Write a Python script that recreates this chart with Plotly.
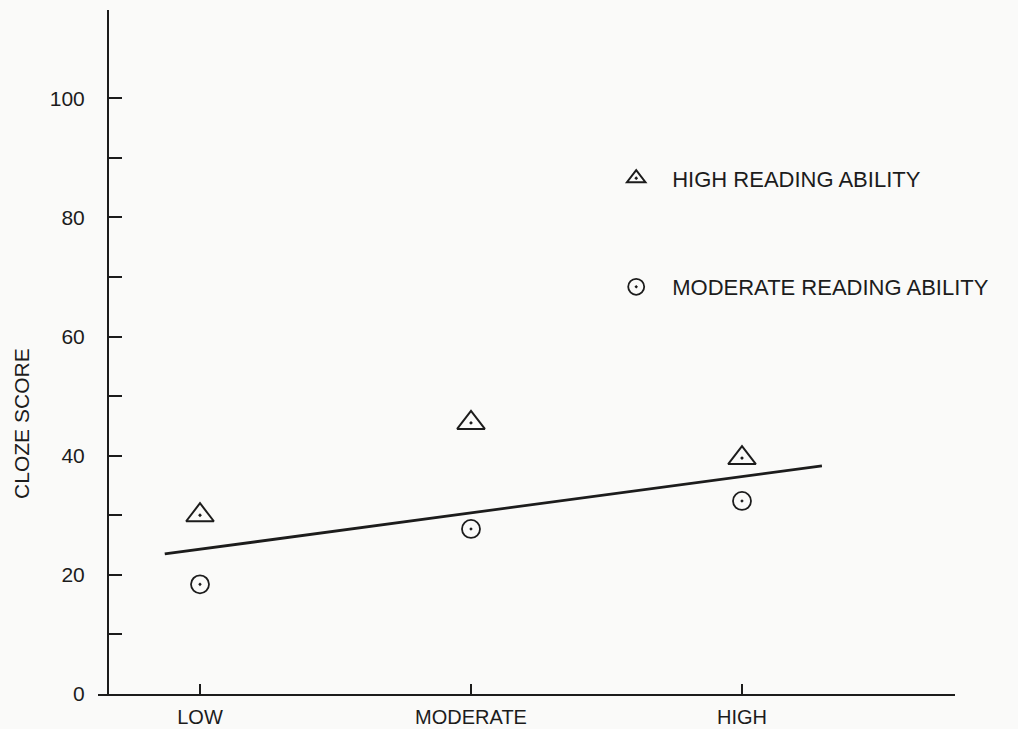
import plotly.graph_objects as go

# ---- data ----
categories = ["LOW", "MODERATE", "HIGH"]
cat_pos = [0, 1, 2]
high_ability = [30.0, 45.5, 39.6]
moderate_ability = [18.4, 27.7, 32.4]
fit_x = [-0.13, 2.295]
fit_y = [23.5, 38.3]
y_tickvals = [0, 10, 20, 30, 40, 50, 60, 70, 80, 90, 100]
y_ticktext = ["0", "", "20", "", "40", "", "60", "", "80", "", "100"]
series_names = ["HIGH READING ABILITY", "MODERATE READING ABILITY"]
y_title = "CLOZE SCORE"

FONT = "Liberation Sans, Arial, sans-serif"
INK = "#1c1c1c"

fig = go.Figure()
fig.add_trace(go.Scatter(
    x=fit_x, y=fit_y, mode="lines",
    line=dict(color=INK, width=2.8), showlegend=False, hoverinfo="skip"))
fig.add_trace(go.Scatter(
    x=cat_pos, y=high_ability, mode="markers", name=series_names[0],
    legendgroup="a",
    marker=dict(symbol="triangle-up-open-dot", size=24, color=INK,
                line=dict(width=2, color=INK))))
fig.add_trace(go.Scatter(
    x=cat_pos, y=moderate_ability, mode="markers", name=series_names[1],
    legendgroup="b",
    marker=dict(symbol="circle-open-dot", size=18, color=INK,
                line=dict(width=1.8, color=INK))))

fig.update_layout(
    width=1018, height=729,
    margin=dict(l=98, r=63, t=10, b=35),
    paper_bgcolor="#fafaf9", plot_bgcolor="#fafaf9",
    font=dict(family=FONT, size=21, color=INK),
    xaxis=dict(
        range=[-0.3764, 2.786], tickvals=cat_pos, ticktext=categories,
        showgrid=False, zeroline=False, showline=True, linecolor=INK,
        linewidth=2, ticks="inside", ticklen=10, tickwidth=2, tickcolor=INK,
        ticklabelstandoff=4, tickfont=dict(size=20), automargin=False),
    yaxis=dict(
        range=[0, 114.8], tickvals=y_tickvals, ticktext=y_ticktext,
        showgrid=False, zeroline=False, showline=True, linecolor=INK,
        linewidth=2, ticks="inside", ticklen=13, tickwidth=2, tickcolor=INK,
        anchor="free", position=10 / 857, ticklabelstandoff=18,
        tickfont=dict(size=21), automargin=False),
    legend=dict(
        x=0.586, y=0.7845, xanchor="left", yanchor="top",
        bgcolor="rgba(0,0,0,0)", itemwidth=62, tracegroupgap=77,
        font=dict(size=22, color=INK)),
    annotations=[dict(
        text=y_title, textangle=-90, xref="paper", yref="y",
        x=-0.0887, y=45.5, xanchor="center", yanchor="middle",
        showarrow=False, font=dict(size=21, color=INK))],
)

fig.write_html(
    "out.html",
    config={"displayModeBar": False},
    post_script="document.body.style.margin='0';document.body.style.overflow='hidden';",
)
